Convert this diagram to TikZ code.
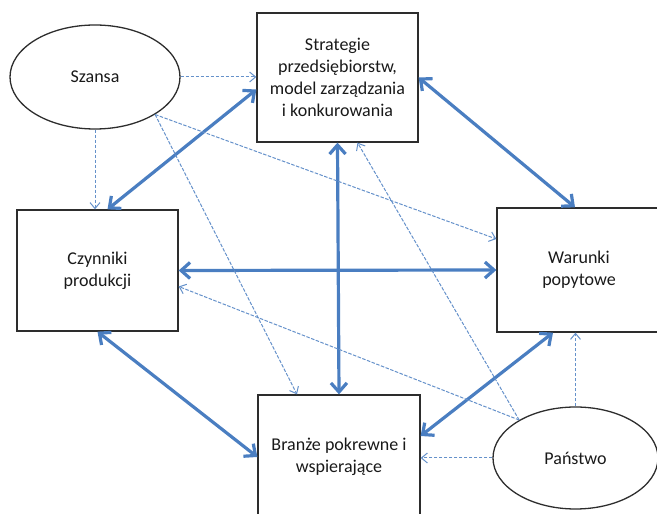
\documentclass[tikz,border=0pt]{standalone}
\usepackage{fontspec}
\setmainfont{Carlito}
\usetikzlibrary{arrows.meta, shapes.geometric}

\definecolor{linkblue}{RGB}{74,126,193}
\definecolor{boxgray}{RGB}{45,45,45}

\tikzset{
    factor/.style={draw=boxgray, line width=1.3pt, rectangle, inner sep=1pt, align=center,
        text=black!90, font=\fontsize{18}{22}\selectfont},
    outside/.style={factor, ellipse},
    strong/.style={draw=linkblue, line width=3.2pt,
        {Straight Barb[length=9pt,width=16pt]}-{Straight Barb[length=9pt,width=16pt]}},
    weak/.style={draw=linkblue!85, line width=1pt, dash pattern=on 3.5pt off 1.5pt,
        -{Straight Barb[length=6pt,width=10pt]}},
}

\begin{document}
\begin{tikzpicture}[x=1pt, y=1pt]
        \useasboundingbox (0, 0) rectangle (657, 514);

        \node[outside, minimum width=170pt, minimum height=104pt] (szansa) at (95, 437) {Szansa};
        \node[factor, minimum width=161pt, minimum height=129pt] (strat) at (337.5, 436.5)
            {Strategie\\przedsiębiorstw,\\model zarządzania\\i konkurowania};
        \node[factor, minimum width=161pt, minimum height=121pt] (czyn) at (97.5, 243.5) {Czynniki\\produkcji};
        \node[factor, minimum width=164pt, minimum height=124pt] (popyt) at (579, 244) {Warunki\\popytowe};
        \node[factor, minimum width=162pt, minimum height=124pt] (branze) at (339, 57) {Branże pokrewne i\\wspierające};
        \node[outside, minimum width=165pt, minimum height=102pt] (panstwo) at (575.5, 56) {Państwo};

        \draw[strong] ([yshift=-12pt]strat.west) -- ([xshift=10pt]czyn.north);
        \draw[strong] (strat.east) -- ([xshift=-4pt]popyt.north);
        \draw[strong] (czyn.east) -- (popyt.west);
        \draw[strong] (strat.south) -- (branze.north);
        \draw[strong] (czyn.south) -- (branze.west);
        \draw[strong] ([xshift=-26pt]popyt.south) -- ([yshift=21pt]branze.east);

        \draw[weak] (szansa.east) -- (szansa.east -| strat.west);
        \draw[weak] (szansa.south) -- (szansa.south |- czyn.north);
        \draw[weak] (szansa.-32) -- ([yshift=31pt]popyt.west);
        \draw[weak] (szansa.-32) -- ([xshift=-42pt]branze.north);

        \draw[weak] (panstwo.146) -- ([xshift=20pt]strat.south);
        \draw[weak] (panstwo.146) -- ([yshift=-16pt]czyn.east);
        \draw[weak] (panstwo.north) -- (panstwo.north |- popyt.south);
        \draw[weak] (panstwo.west) -- (panstwo.west -| branze.east);
\end{tikzpicture}
\end{document}
